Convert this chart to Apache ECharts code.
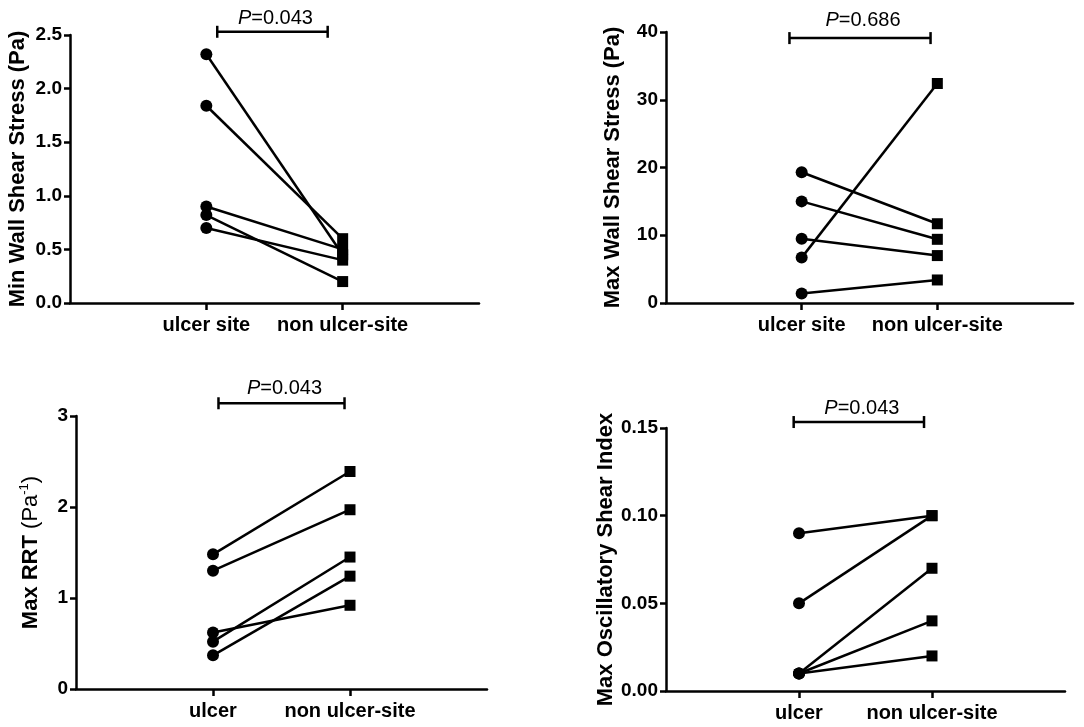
<!DOCTYPE html>
<html>
<head>
<meta charset="utf-8">
<script src="https://cdn.jsdelivr.net/npm/echarts@6/dist/echarts.min.js"></script>
<style>
  html, body { margin: 0; padding: 0; background: #fff; }
  #main { width: 1084px; height: 727px; }
</style>
</head>
<body>
<div id="main"></div>
<script>
// paired values, ulcer site vs non ulcer-site (same index = same patient)
var minWssUlcer = [2.32, 1.84, 0.90, 0.82, 0.70];
var minWssNon   = [0.45, 0.60, 0.50, 0.20, 0.40];
var maxWssUlcer = [19.3, 15.0, 9.5, 6.7, 1.4];
var maxWssNon   = [11.7, 9.4, 7.0, 32.4, 3.4];
var rrtUlcer    = [1.48, 1.30, 0.62, 0.52, 0.37];
var rrtNon      = [2.39, 1.97, 0.92, 1.45, 1.24];
var osiUlcer    = [0.09, 0.05, 0.01, 0.01, 0.01];
var osiNon      = [0.10, 0.10, 0.07, 0.04, 0.02];

var catsSite  = ['ulcer site', 'non ulcer-site'];
var catsShort = ['ulcer', 'non ulcer-site'];

var yMax      = [2.5, 40, 3, 0.15];
var yStep     = [0.5, 10, 1, 0.05];
var yDecimals = [1, 0, 0, 2];

var pValues = ['0.043', '0.686', '0.043', '0.043'];

var FONT = '"Liberation Sans", Arial, sans-serif';

// panel layout (pixels) and bracket spans (x0, x1, y in data units)
var panels = [
  { grid: { left: 70,  top: 35,  width: 409, height: 268 }, cats: catsSite,  u: minWssUlcer, n: minWssNon, nameGap: 41,
    name: 'Min Wall Shear Stress (Pa)', br: [1.08, 1.89, 2.53], pGap: 3 },
  { grid: { left: 666, top: 32,  width: 407, height: 271 }, cats: catsSite,  u: maxWssUlcer, n: maxWssNon, nameGap: 42,
    name: 'Max Wall Shear Stress (Pa)', br: [0.91, 1.95, 39.1], pGap: 8 },
  { grid: { left: 76,  top: 416, width: 411, height: 273 }, cats: catsShort, u: rrtUlcer, n: rrtNon, nameGap: 32,
    name: '{b|Max RRT }{n|(Pa}{s|-1}{n|)}', br: [1.04, 1.96, 3.14], pGap: 5 },
  { grid: { left: 666, top: 428, width: 399, height: 263 }, cats: catsShort, u: osiUlcer, n: osiNon, nameGap: 46,
    name: 'Max Oscillatory Shear Index', br: [0.96, 1.94, 0.1534], pGap: 4 }
];

var grids = [], xAxes = [], yAxes = [], series = [];

panels.forEach(function (p, i) {
  grids.push(p.grid);

  xAxes.push({
    gridIndex: i,
    type: 'value',
    min: 0, max: 3,
    splitLine: { show: false },
    axisLine: { lineStyle: { color: '#000', width: 2.5 } },
    axisTick: { customValues: [1, 2], length: 7, lineStyle: { color: '#000', width: 2.5 } },
    axisLabel: {
      customValues: [1, 2],
      margin: 12,
      color: '#000', fontFamily: FONT, fontWeight: 'bold', fontSize: 20,
      formatter: (function (cats) { return function (v) { return cats[Math.round(v) - 1] || ''; }; })(p.cats)
    }
  });

  yAxes.push({
    gridIndex: i,
    type: 'value',
    min: 0, max: yMax[i], interval: yStep[i],
    name: p.name,
    nameLocation: 'middle',
    nameRotate: 90,
    nameGap: p.nameGap,
    nameTextStyle: {
      color: '#000', fontFamily: FONT, fontWeight: 'bold', fontSize: 22,
      rich: {
        b: { color: '#000', fontFamily: FONT, fontWeight: 'bold', fontSize: 22, lineHeight: 26 },
        n: { color: '#000', fontFamily: FONT, fontWeight: 'normal', fontSize: 22, lineHeight: 26 },
        s: { color: '#000', fontFamily: FONT, fontWeight: 'normal', fontSize: 13, lineHeight: 13, verticalAlign: 'top' }
      }
    },
    splitLine: { show: false },
    axisLine: { show: true, lineStyle: { color: '#000', width: 2.5 } },
    axisTick: { show: true, length: 6, lineStyle: { color: '#000', width: 2.5 } },
    axisLabel: {
      margin: 8,
      color: '#000', fontFamily: FONT, fontWeight: 'bold', fontSize: 19,
      formatter: (function (d) { return function (v) { return v.toFixed(d); }; })(yDecimals[i])
    }
  });

  // one line per patient
  p.u.forEach(function (uv, j) {
    series.push({
      type: 'line',
      xAxisIndex: i, yAxisIndex: i,
      silent: true,
      animation: false,
      lineStyle: { color: '#000', width: 2.5 },
      itemStyle: { color: '#000', borderWidth: 0 },
      data: [
        { value: [1, uv], symbol: 'circle', symbolSize: 12 },
        { value: [2, p.n[j]], symbol: 'rect', symbolSize: 11 }
      ]
    });
  });

  // significance bracket with P value
  series.push({
    type: 'custom',
    xAxisIndex: i, yAxisIndex: i,
    silent: true,
    animation: false,
    clip: false,
    data: [p.br],
    renderItem: (function (pv, gap) {
      return function (params, api) {
        var a = api.coord([api.value(0), api.value(2)]);
        var b = api.coord([api.value(1), api.value(2)]);
        var st = { stroke: '#000', lineWidth: 2.5 };
        return {
          type: 'group',
          children: [
            { type: 'line', shape: { x1: a[0], y1: a[1], x2: b[0], y2: b[1] }, style: st },
            { type: 'line', shape: { x1: a[0], y1: a[1] - 6, x2: a[0], y2: a[1] + 6 }, style: st },
            { type: 'line', shape: { x1: b[0], y1: b[1] - 6, x2: b[0], y2: b[1] + 6 }, style: st },
            {
              type: 'text',
              style: {
                x: (a[0] + b[0]) / 2 + 3, y: a[1] - gap,
                align: 'center', verticalAlign: 'bottom',
                text: '{i|P}{n|=' + pv + '}',
                rich: {
                  i: { fontFamily: FONT, fontStyle: 'italic', fontSize: 20, fill: '#000' },
                  n: { fontFamily: FONT, fontSize: 20, fill: '#000' }
                }
              }
            }
          ]
        };
      };
    })(pValues[i], p.pGap)
  });
});

var chart = echarts.init(document.getElementById('main'), null, { renderer: 'canvas' });
chart.setOption({
  backgroundColor: '#fff',
  animation: false,
  grid: grids,
  xAxis: xAxes,
  yAxis: yAxes,
  series: series
});
</script>
</body>
</html>
